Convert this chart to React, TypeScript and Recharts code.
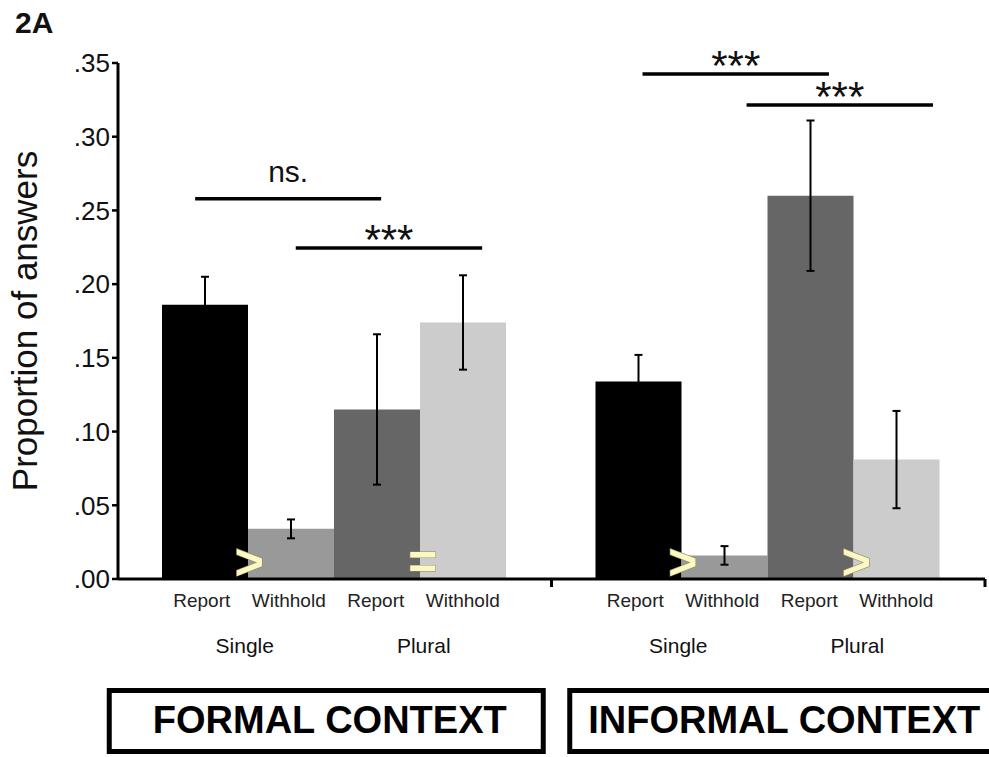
import React from 'react';
import { BarChart, Bar, XAxis, YAxis, ErrorBar, ReferenceLine, ReferenceDot, Label } from 'recharts';

const FONT = "'Liberation Sans', Arial, Helvetica, sans-serif";

// proportions (formal, informal)
const contexts = ['FORMAL CONTEXT', 'INFORMAL CONTEXT'];
const singleReport = [0.186, 0.134];
const singleReportErr = [0.019, 0.018];
const singleWithhold = [0.034, 0.016];
const singleWithholdErr = [0.0064, 0.0063];
const pluralReport = [0.115, 0.26];
const pluralReportErr = [0.051, 0.051];
const pluralWithhold = [0.174, 0.081];
const pluralWithholdErr = [0.032, 0.033];

const answerLabels = ['Report', 'Withhold', 'Report', 'Withhold'];
const numberLabels = ['Single', 'Plural'];
const yTicks = [0, 0.05, 0.1, 0.15, 0.2, 0.25, 0.3, 0.35];

// significance brackets: height on the y scale, span on the hidden 0..20 position axis
const brackets = [
  { label: 'ns.', y: 0.258, from: 1.78, to: 6.07 },
  { label: '***', y: 0.2245, from: 4.1, to: 8.4 },
  { label: '***', y: 0.3425, from: 12.1, to: 16.4 },
  { label: '***', y: 0.3215, from: 14.5, to: 18.8 },
];

// comparison signs between each Report / Withhold pair
const orderSigns = ['>', '=', '>', '>'];

const data = contexts.map((context, i) => ({
  context,
  pos: 5 + 10 * i,
  singleReport: singleReport[i],
  singleReportErr: singleReportErr[i],
  singleWithhold: singleWithhold[i],
  singleWithholdErr: singleWithholdErr[i],
  pluralReport: pluralReport[i],
  pluralReportErr: pluralReportErr[i],
  pluralWithhold: pluralWithhold[i],
  pluralWithholdErr: pluralWithholdErr[i],
}));

const BAND = 867 / 2;
const ANSWER_DX = [-133, -46, 41, 128];
const NUMBER_DX = [-90, 89];
const BOXES = [
  { left: -228, right: 211, textDx: -5 },
  { left: -201, right: 227, textDx: 16 },
];

const CategoryTick = (props: any) => {
  const { x, y, payload } = props;
  const box = BOXES[payload.index] ?? BOXES[0];
  return (
    <g fontFamily={FONT}>
      <line x1={x + BAND / 2} x2={x + BAND / 2} y1={y} y2={y + 8} stroke="#000" strokeWidth={3} />
      {answerLabels.map((t, k) => (
        <text key={k} x={x + ANSWER_DX[k]} y={y + 28} textAnchor="middle" fontSize={19} fill="#222">
          {t}
        </text>
      ))}
      {numberLabels.map((t, k) => (
        <text key={t} x={x + NUMBER_DX[k]} y={y + 74} textAnchor="middle" fontSize={21} fill="#111">
          {t}
        </text>
      ))}
      <rect
        x={x + box.left + 2.5}
        y={690.5}
        width={box.right - box.left - 5}
        height={61}
        fill="none"
        stroke="#000"
        strokeWidth={5}
      />
      <text x={x + box.textDx} y={733} textAnchor="middle" fontSize={38} fontWeight="bold" fill="#000">
        {payload.value}
      </text>
    </g>
  );
};

const YTitle = (props: any) => {
  const vb = props.viewBox ?? { x: 0, y: 63, width: 118, height: 516 };
  const cy = vb.y + vb.height / 2;
  return (
    <text
      transform={`translate(37, ${cy}) rotate(-90)`}
      textAnchor="middle"
      fontSize={35}
      fill="#111"
      fontFamily={FONT}
    >
      Proportion of answers
    </text>
  );
};

const SignShape = (sign: string) => (props: any) => {
  const { cx, cy } = props;
  return (
    <text
      x={cx}
      y={cy}
      textAnchor="middle"
      dominantBaseline="central"
      fontFamily={FONT}
      fontWeight="bold"
      fontSize={50}
      fill="#fbf8c4"
      stroke="#8f8a5e"
      strokeWidth={1.2}
      paintOrder="stroke"
    >
      {sign}
    </text>
  );
};

const fmt = (v: number) => v.toFixed(2).replace(/^0/, '');

export default function App() {
  return (
    <div style={{ position: 'absolute', left: 0, top: 0, width: 989, height: 757, background: '#fff' }}>
      <div
        style={{
          position: 'absolute',
          left: 15,
          top: 8,
          fontFamily: FONT,
          fontWeight: 'bold',
          fontSize: 30,
          lineHeight: 1,
          color: '#111',
        }}
      >
        2A
      </div>
      <BarChart
        width={989}
        height={757}
        data={data}
        margin={{ top: 63, right: 4, bottom: 0, left: 0 }}
        barGap={0}
        barCategoryGap={44}
      >
        <XAxis
          dataKey="context"
          height={178}
          axisLine={{ stroke: '#000', strokeWidth: 3 }}
          tickLine={false}
          tickSize={0}
          tickMargin={0}
          interval={0}
          tick={<CategoryTick />}
        />
        <XAxis
          xAxisId="pos"
          dataKey="pos"
          type="number"
          domain={[0, 20]}
          allowDataOverflow
          hide
        />
        <YAxis
          width={118}
          domain={[0, 0.35]}
          ticks={yTicks}
          interval={0}
          tickFormatter={fmt}
          axisLine={{ stroke: '#000', strokeWidth: 3 }}
          tickLine={{ stroke: '#000', strokeWidth: 2.5 }}
          tickSize={6}
          tickMargin={2}
          tick={{ fontSize: 26, fill: '#111', fontFamily: FONT }}
        >
          <Label content={YTitle} />
        </YAxis>
        <Bar dataKey="singleReport" fill="#000000" isAnimationActive={false}>
          <ErrorBar dataKey="singleReportErr" width={4} stroke="#000" strokeWidth={2} isAnimationActive={false} />
        </Bar>
        <Bar dataKey="singleWithhold" fill="#999999" isAnimationActive={false}>
          <ErrorBar dataKey="singleWithholdErr" width={4} stroke="#000" strokeWidth={2} isAnimationActive={false} />
        </Bar>
        <Bar dataKey="pluralReport" fill="#666666" isAnimationActive={false}>
          <ErrorBar dataKey="pluralReportErr" width={4} stroke="#000" strokeWidth={2} isAnimationActive={false} />
        </Bar>
        <Bar dataKey="pluralWithhold" fill="#cccccc" isAnimationActive={false}>
          <ErrorBar dataKey="pluralWithholdErr" width={4} stroke="#000" strokeWidth={2} isAnimationActive={false} />
        </Bar>
        {brackets.map((b, i) => (
          <ReferenceLine
            key={`br-${i}`}
            xAxisId="pos"
            ifOverflow="visible"
            segment={[
              { x: b.from, y: b.y },
              { x: b.to, y: b.y },
            ]}
            stroke="#000"
            strokeWidth={3.5}
            label={{
              value: b.label,
              position: 'top',
              offset: b.label === 'ns.' ? 17 : -6,
              fontSize: b.label === 'ns.' ? 30 : 42,
              fill: '#111',
              fontFamily: FONT,
            }}
          />
        ))}
        {orderSigns.map((s, k) => (
          <ReferenceDot
            key={`sign-${k}`}
            xAxisId="pos"
            ifOverflow="visible"
            x={10 * Math.floor(k / 2) + 3 + 4 * (k % 2) + 0.03}
            y={0.0115}
            r={0}
            shape={SignShape(s)}
          />
        ))}
      </BarChart>
    </div>
  );
}
